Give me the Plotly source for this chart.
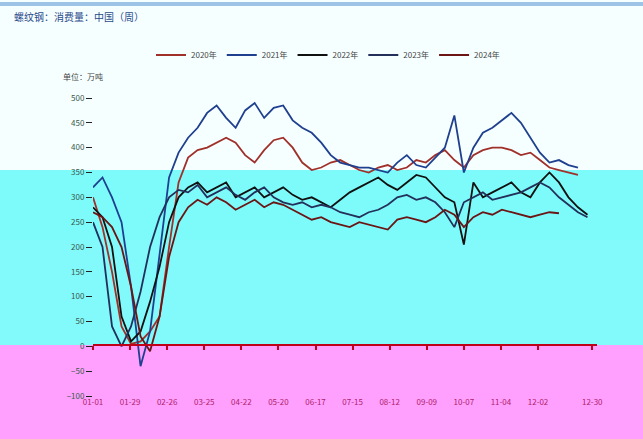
import plotly.graph_objects as go

TITLE = "螺纹钢：消费量：中国（周）"
UNIT = "单位：万吨"
SERIES_NAMES = ["2020年", "2021年", "2022年", "2023年", "2024年"]
SERIES_COLORS = ["#A0302A", "#1F3F8F", "#111111", "#23305A", "#6B1515"]

TICK_LABELS = ["01-01", "01-29", "02-26", "03-25", "04-22", "05-20", "06-17",
               "07-15", "08-12", "09-09", "10-07", "11-04", "12-02", "12-30"]
TICK_WEEKS = [1.0, 4.9, 8.8, 12.7, 16.6, 20.5, 24.4, 28.3, 32.2, 36.1, 40.0, 43.9, 47.8, 53.5]

v2020 = [300, 240, 150, 40, 5, 10, 30, 60, 200, 330, 380, 395, 400, 410, 420, 410, 385, 370,
         395, 415, 420, 400, 370, 355, 360, 370, 375, 365, 355, 350, 360, 365, 355, 360, 375,
         370, 385, 395, 375, 360, 385, 395, 400, 400, 395, 385, 390, 375, 360, 355, 350, 345]
v2021 = [320, 340, 300, 250, 120, -40, 30, 180, 340, 390, 420, 440, 470, 485, 460, 440, 475,
         490, 460, 480, 485, 455, 440, 430, 410, 385, 370, 365, 360, 360, 355, 350, 370, 385,
         365, 360, 380, 400, 465, 350, 400, 430, 440, 455, 470, 450, 420, 390, 370, 375, 365, 360]
v2022 = [280, 260, 200, 60, 10, 30, 90, 160, 250, 300, 320, 330, 310, 320, 330, 300, 310, 320,
         300, 310, 320, 305, 295, 300, 290, 280, 295, 310, 320, 330, 340, 325, 315, 330, 345,
         340, 320, 300, 290, 205, 330, 300, 310, 320, 330, 310, 300, 330, 350, 330, 300, 280, 265]
v2023 = [250, 200, 40, 0, 40, 110, 200, 260, 300, 315, 310, 325, 300, 310, 320, 305, 295, 310,
         320, 300, 290, 285, 290, 280, 285, 280, 270, 265, 260, 270, 275, 285, 300, 305, 295,
         300, 290, 270, 240, 290, 300, 310, 295, 300, 305, 310, 320, 330, 320, 300, 285, 270, 260]
v2024 = [270, 260, 240, 200, 120, 20, -10, 60, 180, 250, 280, 295, 285, 300, 290, 275, 285, 295,
         280, 290, 285, 275, 265, 255, 260, 250, 245, 240, 250, 245, 240, 235, 255, 260, 255,
         250, 260, 275, 265, 240, 260, 270, 265, 275, 270, 265, 260, 265, 270, 268]
SERIES = [v2020, v2021, v2022, v2023, v2024]

Y_TICKS = list(range(-100, 501, 50))

# layout geometry (pixels)
W, H = 643, 439
ML, MR, MT, MB = 93, 46, 98, 43
PW, PH = W - ML - MR, H - MT - MB


def px_x(p):
    return (p - ML) / PW


def px_y(p):
    return (H - MB - p) / PH


fig = go.Figure()
for name, col, vals in zip(SERIES_NAMES, SERIES_COLORS, SERIES):
    fig.add_trace(go.Scatter(x=list(range(1, len(vals) + 1)), y=vals, mode="lines",
                             name=name, line=dict(color=col, width=1.8)))
# helper trace for the zero-crossing axis with ticks
fig.add_trace(go.Scatter(x=[1, 54], y=[0, 0], xaxis="x2", mode="lines",
                         line=dict(color="rgba(0,0,0,0)"), showlegend=False, hoverinfo="skip"))

shapes = [
    dict(type="rect", xref="paper", yref="paper", x0=px_x(0), x1=px_x(W), y0=px_y(170), y1=px_y(0),
         fillcolor="#F6FFFF", line=dict(width=0), layer="below"),
    dict(type="rect", xref="paper", yref="paper", x0=px_x(0), x1=px_x(W), y0=px_y(240), y1=px_y(170),
         fillcolor="#7DFBFB", line=dict(width=0), layer="below"),
    dict(type="rect", xref="paper", yref="paper", x0=px_x(0), x1=px_x(W), y0=px_y(345), y1=px_y(240),
         fillcolor="#82F9FA", line=dict(width=0), layer="below"),
    dict(type="rect", xref="paper", yref="paper", x0=px_x(0), x1=px_x(W), y0=px_y(H), y1=px_y(345),
         fillcolor="#FFA0FF", line=dict(width=0), layer="below"),
    dict(type="line", xref="paper", yref="paper", x0=px_x(0), x1=px_x(W), y0=px_y(4), y1=px_y(4),
         line=dict(color="#9DC3E6", width=4)),
]

fig.update_layout(
    width=W, height=H,
    margin=dict(l=ML, r=MR, t=MT, b=MB),
    paper_bgcolor="white",
    plot_bgcolor="rgba(0,0,0,0)",
    font=dict(family="Noto Sans CJK SC, Noto Sans, sans-serif", size=8, color="#444444"),
    shapes=shapes,
    showlegend=True,
    legend=dict(orientation="h", x=px_x(328), xanchor="center", y=px_y(55), yanchor="middle",
                font=dict(size=8, color="#444444"), bgcolor="rgba(0,0,0,0)",
                itemwidth=30, tracegroupgap=0),
    xaxis=dict(range=[1, 54], tickmode="array", tickvals=TICK_WEEKS, ticktext=TICK_LABELS,
               showgrid=False, zeroline=False, showline=False, ticks="",
               tickfont=dict(size=8, color="#B0206A")),
    xaxis2=dict(matches="x", overlaying="x", anchor="free", position=px_y(345), side="bottom",
                showline=True, linecolor="#C00018", linewidth=2, ticks="outside",
                tickcolor="#C00018", ticklen=4, tickwidth=2, tickvals=TICK_WEEKS,
                showticklabels=False, showgrid=False, zeroline=False),
    yaxis=dict(range=[-100, 500], tickmode="array", tickvals=Y_TICKS,
               showgrid=False, zeroline=False, showline=False, ticks="outside",
               ticklen=6, tickcolor="#222222", tickfont=dict(size=8, color="#3A5A4A")),
    annotations=[
        dict(text=TITLE, xref="paper", yref="paper", x=px_x(12), y=px_y(17), xanchor="left",
             yanchor="middle", showarrow=False, font=dict(size=10, color="#2A4A8A")),
        dict(text=UNIT, xref="paper", yref="paper", x=px_x(61), y=px_y(76), xanchor="left",
             yanchor="middle", showarrow=False, font=dict(size=8, color="#444444")),
    ],
)

fig.write_html("out.html", config={"displayModeBar": False},
               post_script="document.body.style.margin='0';")
